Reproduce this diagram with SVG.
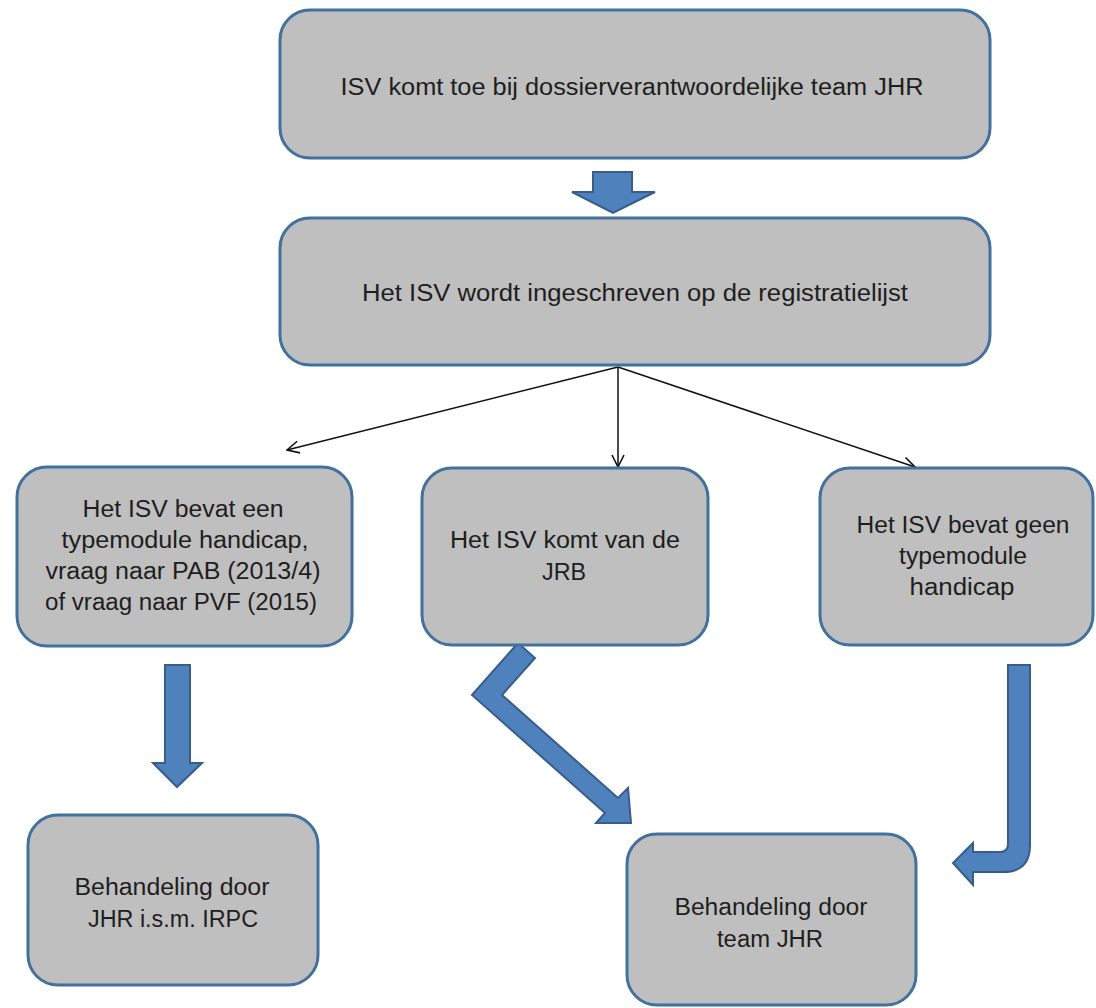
<svg xmlns="http://www.w3.org/2000/svg" width="1096" height="1008" viewBox="0 0 1096 1008">
<defs>
<style>
.box{fill:#bfbfbf;stroke:#41719c;stroke-width:3}
.blk{fill:#4f81bd;stroke:#385d8a;stroke-width:2;stroke-linejoin:miter}
.ln{fill:none;stroke:#111;stroke-width:1.5}
text{font-family:"Liberation Sans",Arial,sans-serif;font-size:23px;fill:#1e1e1e;text-anchor:middle}
</style>
<marker id="ah" viewBox="0 0 14 14" refX="13" refY="7" markerWidth="14" markerHeight="14" markerUnits="userSpaceOnUse" orient="auto">
<path d="M1,1 L13,7 L1,13" fill="none" stroke="#111" stroke-width="1.6"/>
</marker>
</defs>
<rect width="1096" height="1008" fill="#fff"/>
<g id="connectors">
<path class="blk" d="M593,172 L632,172 L632,192 L655,192 L613,213 L572,192 L593,192 Z"/>
<line class="ln" x1="618" y1="367" x2="287" y2="450" marker-end="url(#ah)"/>
<line class="ln" x1="618" y1="367" x2="618" y2="467" marker-end="url(#ah)"/>
<line class="ln" x1="618" y1="367" x2="915" y2="467" marker-end="url(#ah)"/>
<path class="blk" d="M165,665 L190,665 L190,763 L202,763 L177,787 L153,763 L165,763 Z"/>
<path class="blk" d="M518,643 L535,658 L502,695 L618,798 L628,788 L631,823 L596,823 L605,813 L472,695 Z"/>
<path class="blk" d="M1008,665 L1030,665 L1030,845 Q1030,872 1003,872 L973,872 L973,885 L953,863 L973,843 L973,852 L1000,852 Q1008,852 1008,844 Z"/>
</g>
<g id="n1">
<rect class="box" x="280" y="10" width="710" height="148" rx="30"/>
<text x="632" y="95" textLength="583" lengthAdjust="spacingAndGlyphs">ISV komt toe bij dossierverantwoordelijke team JHR</text>
</g>
<g id="n2">
<rect class="box" x="280" y="218" width="710" height="147" rx="30"/>
<text x="635" y="301" textLength="546" lengthAdjust="spacingAndGlyphs">Het ISV wordt ingeschreven op de registratielijst</text>
</g>
<g id="n3">
<rect class="box" x="17" y="467" width="335" height="179" rx="30"/>
<text x="183" y="517" textLength="201" lengthAdjust="spacingAndGlyphs">Het ISV bevat een</text>
<text x="185" y="548" textLength="247" lengthAdjust="spacingAndGlyphs">typemodule handicap,</text>
<text x="183" y="579" textLength="275" lengthAdjust="spacingAndGlyphs">vraag naar PAB (2013/4)</text>
<text x="181" y="610" textLength="272" lengthAdjust="spacingAndGlyphs">of vraag naar PVF (2015)</text>
</g>
<g id="n4">
<rect class="box" x="422" y="468" width="286" height="177" rx="30"/>
<text x="565" y="548" textLength="230" lengthAdjust="spacingAndGlyphs">Het ISV komt van de</text>
<text x="564" y="580" textLength="44" lengthAdjust="spacingAndGlyphs">JRB</text>
</g>
<g id="n5">
<rect class="box" x="820" y="468" width="273" height="177" rx="30"/>
<text x="963" y="533" textLength="213" lengthAdjust="spacingAndGlyphs">Het ISV bevat geen</text>
<text x="963" y="564" textLength="128" lengthAdjust="spacingAndGlyphs">typemodule</text>
<text x="962" y="595" textLength="105" lengthAdjust="spacingAndGlyphs">handicap</text>
</g>
<g id="n6">
<rect class="box" x="28" y="815" width="290" height="170" rx="30"/>
<text x="172" y="895" textLength="195" lengthAdjust="spacingAndGlyphs">Behandeling door</text>
<text x="173" y="927" textLength="170" lengthAdjust="spacingAndGlyphs">JHR i.s.m. IRPC</text>
</g>
<g id="n7">
<rect class="box" x="627" y="834" width="289" height="171" rx="30"/>
<text x="771" y="915" textLength="193" lengthAdjust="spacingAndGlyphs">Behandeling door</text>
<text x="770" y="947" textLength="106" lengthAdjust="spacingAndGlyphs">team JHR</text>
</g>
</svg>
